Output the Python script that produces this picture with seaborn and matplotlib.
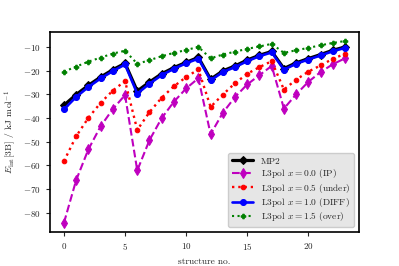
import numpy as np
import pandas as pd
import matplotlib
matplotlib.use("Agg")
import matplotlib.pyplot as plt
import seaborn as sns

# structure index
structure = list(range(24))

mp2 = [-34.6, -30.1, -26.2, -22.7, -19.6, -16.9,
       -28.6, -24.8, -21.3, -18.7, -16.5, -14.4,
       -23.6, -20.1, -18.0, -15.5, -13.5, -11.9,
       -19.1, -16.7, -14.9, -13.2, -11.4, -10.0]
ip = [-84.2, -66.2, -53.2, -43.5, -36.2, -30.3,
      -62.1, -49.3, -40.0, -33.1, -27.5, -23.2,
      -46.8, -37.8, -31.1, -25.8, -21.9, -18.0,
      -36.0, -30.0, -24.7, -20.6, -17.3, -14.8]
under = [-58.2, -47.7, -39.9, -33.6, -28.4, -24.4,
         -45.0, -37.5, -31.4, -26.6, -22.7, -19.5,
         -35.3, -30.1, -25.3, -21.3, -18.5, -16.0,
         -28.0, -23.8, -20.4, -17.8, -15.0, -12.9]
diff = [-36.3, -31.1, -26.9, -23.3, -20.2, -17.4,
        -29.7, -25.5, -21.9, -19.2, -16.9, -14.9,
        -24.1, -20.6, -18.5, -16.0, -13.9, -12.3,
        -19.6, -17.1, -15.3, -13.6, -11.8, -10.4]
over = [-20.4, -18.3, -16.2, -14.5, -12.8, -11.6,
        -17.1, -15.6, -13.9, -12.5, -11.3, -10.0,
        -14.8, -13.2, -12.0, -10.8, -9.8, -8.7,
        -12.5, -11.4, -10.4, -9.3, -8.3, -7.5]

labels = ["MP2",
          r"L3pol $x = 0.0$ (IP)",
          r"L3pol $x = 0.5$ (under)",
          r"L3pol $x = 1.0$ (DIFF)",
          r"L3pol $x = 1.5$ (over)"]

sns.set_style("ticks")
plt.rcParams["font.family"] = ["cmr10", "DejaVu Serif"]
plt.rcParams["mathtext.fontset"] = "cm"
plt.rcParams["axes.formatter.use_mathtext"] = True
plt.rcParams["font.size"] = 6.5

fig, ax = plt.subplots(figsize=(3.99, 2.66), dpi=100)
fig.subplots_adjust(left=0.125, right=0.9, top=0.88, bottom=0.128)

styles = [
    (mp2, "k", "-", "D", 2.3, 4.0),
    (ip, "m", "--", "d", 1.5, 5.0),
    (under, "r", ":", "o", 1.7, 3.3),
    (diff, "b", "-", "o", 1.9, 4.3),
    (over, "g", ":", "P", 1.5, 3.3),
]
for (vals, c, ls, mk, lw, ms), lab in zip(styles, labels):
    sns.lineplot(x=structure, y=vals, ax=ax, color=c, linestyle=ls,
                 marker=mk, linewidth=lw, markersize=ms,
                 markeredgecolor=c, label=lab)

ax.set_xticks([0, 5, 10, 15, 20])
ax.set_yticks([-80, -70, -60, -50, -40, -30, -20, -10])
ax.set_xlabel("structure no.", fontsize=6.8)
ax.set_ylabel(r"$E_\mathrm{int}[3\mathrm{B}]$ / kJ mol$^{-1}$", fontsize=7)
for s in ax.spines.values():
    s.set_linewidth(1.2)
    s.set_color("black")
ax.tick_params(width=0.8, length=3, labelsize=6.5)

leg = ax.legend(loc="lower right", facecolor="#e6e6e6", edgecolor="#cccccc",
                framealpha=1.0, fontsize=6.8, labelspacing=0.15,
                handlelength=2.3, borderpad=0.4)

fig.savefig("out.png", dpi=100)
